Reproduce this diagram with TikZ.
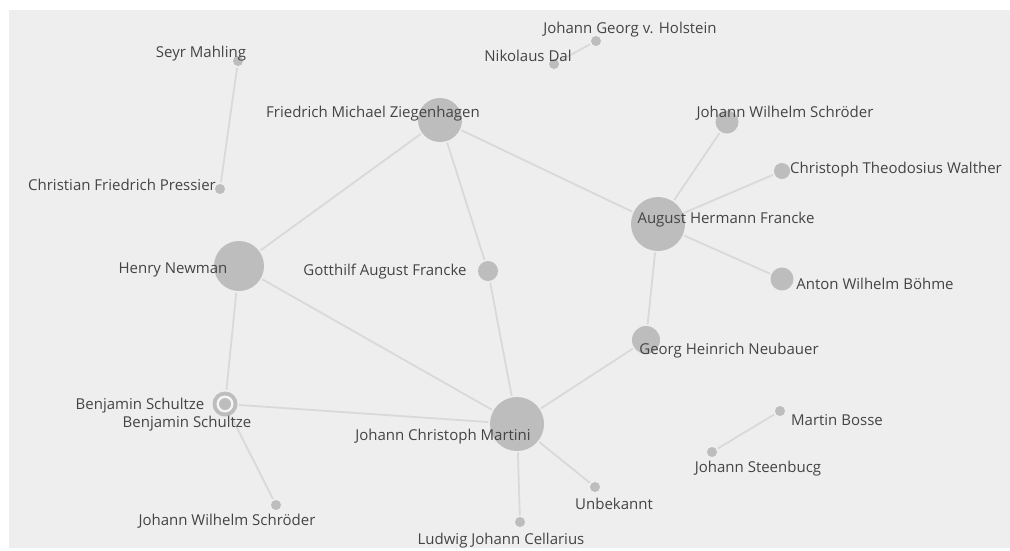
\documentclass[tikz,border=0pt]{standalone}
\usepackage{fontspec}
\setmainfont{Open Sans}
\usepackage{xcolor}
\usepackage{tikz}
\usetikzlibrary{positioning}

\definecolor{canvas}{HTML}{EEEEEE}
\definecolor{dot}{HTML}{BDBDBD}
\definecolor{link}{HTML}{D9D9D9}
\definecolor{ink}{HTML}{444444}

\begin{document}
\begin{tikzpicture}[
x=1pt,
y=-1pt,
every node/.style={font=\fontsize{15}{16}\selectfont},
person/.style={circle,fill=dot,inner sep=0pt,minimum size=#1},
person/.default=10pt,
tag/.style={text=ink,inner sep=0pt,anchor=center,yshift=-1.5pt},
edge/.style={draw=link,line width=1.8pt,shorten <=1.5pt,shorten >=1.5pt}
]
\fill[white] (0,0) rectangle (1010,550);
\fill[canvas] (9,10) rectangle (1010,548);
\useasboundingbox (0,0) rectangle (1010,550);

% people
\node[person] (mahling) at (238,61) {};
\node[person] (pressier) at (220,189) {};
\node[person=44pt] (ziegenhagen) at (440,120) {};
\node[person] (dal) at (554,64) {};
\node[person] (holstein) at (596,41) {};
\node[person=23pt] (schroederup) at (727,122) {};
\node[person=16pt] (walther) at (782,171) {};
\node[person=54pt] (hfrancke) at (658,224) {};
\node[person=23pt] (boehme) at (782,279) {};
\node[person=50pt] (newman) at (239,266) {};
\node[person=20pt] (gfrancke) at (488,271) {};
\node[person=28pt] (neubauer) at (646,340) {};
\node[person=25pt] (schultze) at (225,404) {};
\node[circle,fill=canvas!60!white,inner sep=0pt,minimum size=17pt] (schultzering) at (schultze) {};
\node[person=12pt] (schultzecore) at (schultze) {};
\node[person=54pt] (martini) at (517,424) {};
\node[person] (unbekannt) at (595,487) {};
\node[person] (cellarius) at (520,522) {};
\node[person] (schroederdown) at (276,505) {};
\node[person] (bosse) at (780,411) {};
\node[person] (steenbucg) at (712,452) {};

% links
\draw[edge] (mahling) -- (pressier);
\draw[edge] (dal) -- (holstein);
\draw[edge] (ziegenhagen) -- (newman);
\draw[edge] (ziegenhagen) -- (gfrancke);
\draw[edge] (ziegenhagen) -- (hfrancke);
\draw[edge] (hfrancke) -- (schroederup);
\draw[edge] (hfrancke) -- (walther);
\draw[edge] (hfrancke) -- (boehme);
\draw[edge] (hfrancke) -- (neubauer);
\draw[edge] (neubauer) -- (martini);
\draw[edge] (gfrancke) -- (martini);
\draw[edge] (newman) -- (martini);
\draw[edge] (newman) -- (schultze);
\draw[edge] (schultze) -- (martini);
\draw[edge] (schultze) -- (schroederdown);
\draw[edge] (martini) -- (unbekannt);
\draw[edge] (martini) -- (cellarius);
\draw[edge] (bosse) -- (steenbucg);

% names
\node[tag] (mahlinglbl) at (201,52) {Seyr Mahling};
\node[tag] (pressierlbl) at (122,183) {Christian Friedrich Pressier};
\node[tag] (ziegenhagenlbl) at (373,112) {Friedrich Michael Ziegenhagen};
\node[tag] (dallbl) at (528,54) {Nikolaus Dal};
\node[tag] (holsteinlbl) at (630,28) {Johann Georg v. Holstein};
\node[tag] (schroederuplbl) at (785,112) {Johann Wilhelm Schröder};
\node[tag] (waltherlbl) at (896,168) {Christoph Theodosius Walther};
\node[tag] (hfranckelbl) at (726,218) {August Hermann Francke};
\node[tag] (boehmelbl) at (875,282) {Anton Wilhelm Böhme};
\node[tag] (newmanlbl) at (173,268) {Henry Newman};
\node[tag] (gfranckelbl) at (385,270) {Gotthilf August Francke};
\node[tag] (neubauerlbl) at (729,349) {Georg Heinrich Neubauer};
\node[tag] (schultzelbl) at (140,404) {Benjamin Schultze};
\node[tag] (schultzelbltwo) at (187,422) {Benjamin Schultze};
\node[tag] (martinilbl) at (443,435) {Johann Christoph Martini};
\node[tag] (unbekanntlbl) at (614,502) {Unbekannt};
\node[tag] (cellariuslbl) at (501,539) {Ludwig Johann Cellarius};
\node[tag] (schroederdownlbl) at (227,520) {Johann Wilhelm Schröder};
\node[tag] (bosselbl) at (837,419) {Martin Bosse};
\node[tag] (steenbucglbl) at (758,467) {Johann Steenbucg};
\end{tikzpicture}
\end{document}
